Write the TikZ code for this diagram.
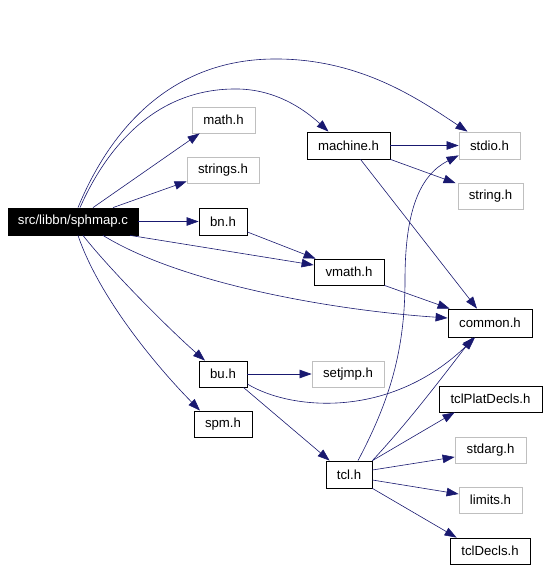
\documentclass[tikz,border=0pt]{standalone}
\usepackage{fontspec}
\setmainfont{Liberation Sans}
\usepackage{tikz}
\usetikzlibrary{arrows.meta}
\definecolor{edgeblue}{RGB}{25,25,112}
\definecolor{extgray}{RGB}{191,191,191}

\begin{document}
\begin{tikzpicture}[x=1pt, y=-1pt,
    hdr/.style={rectangle, draw=black, line width=0.8pt, inner sep=0pt, minimum height=26pt, font=\fontsize{13.2}{15}\selectfont},
    exthdr/.style={hdr, draw=extgray},
    rootfile/.style={hdr, fill=black, text=white, minimum height=27pt},
    dep/.style={draw=edgeblue, line width=0.6pt, -{Triangle[length=12pt, width=8.5pt]}}]
  \useasboundingbox (0,0) rectangle (547,569);
  % included files
  \node[rootfile, minimum width=130pt] (sphmap) at (73,221.5) {src/libbn/sphmap.c};
  \node[exthdr, minimum width=63pt] (math) at (223.5,120) {math.h};
  \node[exthdr, minimum width=72pt] (strings) at (223,170) {strings.h};
  \node[hdr, minimum width=48pt, minimum height=27pt] (bn) at (223,221.5) {bn.h};
  \node[hdr, minimum width=83pt, minimum height=27pt] (machine) at (348.5,145.5) {machine.h};
  \node[exthdr, minimum width=61pt, minimum height=27pt] (stdio) at (489.5,145.5) {stdio.h};
  \node[exthdr, minimum width=65pt] (string) at (490.5,196.5) {string.h};
  \node[hdr, minimum width=70pt] (vmath) at (349,272) {vmath.h};
  \node[hdr, minimum width=84pt, minimum height=28pt] (common) at (490,323) {common.h};
  \node[hdr, minimum width=48pt] (bu) at (223,374) {bu.h};
  \node[exthdr, minimum width=72pt] (setjmp) at (348,374) {setjmp.h};
  \node[hdr, minimum width=58pt] (spm) at (223,424) {spm.h};
  \node[hdr, minimum width=103pt] (tclPlatDecls) at (490.5,399) {tclPlatDecls.h};
  \node[exthdr, minimum width=71pt] (stdarg) at (490.5,450) {stdarg.h};
  \node[hdr, minimum width=46pt, minimum height=27pt] (tcl) at (349,474.5) {tcl.h};
  \node[exthdr, minimum width=63pt] (limits) at (490.5,500) {limits.h};
  \node[hdr, minimum width=80pt] (tclDecls) at (490,551) {tclDecls.h};

  % sphmap.c
  \draw[dep] ([xshift=5pt]sphmap.north) .. controls (110,130) and (170,60) .. (273,59)
    .. controls (360,58) and (420,100) .. ([xshift=-22pt]stdio.north);
  \draw[dep] ([xshift=7pt]sphmap.north) .. controls (110,140) and (160,90) .. (233,89)
    .. controls (275,88) and (305,110) .. ([xshift=-20pt]machine.north);
  \draw[dep] ([xshift=20pt]sphmap.north) -- ([xshift=8pt]math.south west);
  \draw[dep] ([xshift=40pt]sphmap.north) -- ([yshift=2pt]strings.south west);
  \draw[dep] (sphmap.east) -- (bn.west);
  \draw[dep] ([xshift=57pt]sphmap.south) -- ([yshift=7pt]vmath.west);
  \draw[dep] ([xshift=30pt]sphmap.south) .. controls (180,283) and (330,310) .. ([yshift=5pt]common.west);
  \draw[dep] ([xshift=10pt]sphmap.south) .. controls (110,270) and (170,330) .. ([xshift=-18pt]bu.north);
  \draw[dep] ([xshift=5pt]sphmap.south) .. controls (100,300) and (160,370) .. ([xshift=-23pt]spm.north);

  % bn.h, machine.h, vmath.h
  \draw[dep] ([yshift=-10.5pt]bn.east) -- ([xshift=2pt]vmath.north west);
  \draw[dep] (machine.east) -- (stdio.west);
  \draw[dep] (machine.south east) -- ([xshift=-2pt]string.north west);
  \draw[dep] ([xshift=12pt]machine.south) -- ([xshift=-13pt]common.north);
  \draw[dep] (vmath.south east) -- ([xshift=2pt]common.north west);

  % bu.h
  \draw[dep] (bu.east) -- (setjmp.west);
  \draw[dep] ([yshift=-10pt]bu.east) .. controls (290,410) and (390,420) .. ([xshift=-15pt]common.south);
  \draw[dep] ([xshift=-4pt]bu.south east) -- ([xshift=4pt]tcl.north west);

  % tcl.h
  \draw[dep] ([xshift=9pt]tcl.north) .. controls (390,400) and (405,350) .. (405,280)
    .. controls (405,210) and (420,175) .. ([yshift=4pt]stdio.south west);
  \draw[dep] (tcl.north east) .. controls (410,420) and (440,380) .. ([xshift=-17pt]common.south);
  \draw[dep] (tcl.north east) -- ([xshift=16pt]tclPlatDecls.south west);
  \draw[dep] ([yshift=4.5pt]tcl.east) -- ([yshift=-7pt]stdarg.west);
  \draw[dep] ([yshift=-5.5pt]tcl.east) -- ([yshift=6pt]limits.west);
  \draw[dep] (tcl.south east) -- ([xshift=7pt]tclDecls.north west);
\end{tikzpicture}
\end{document}
